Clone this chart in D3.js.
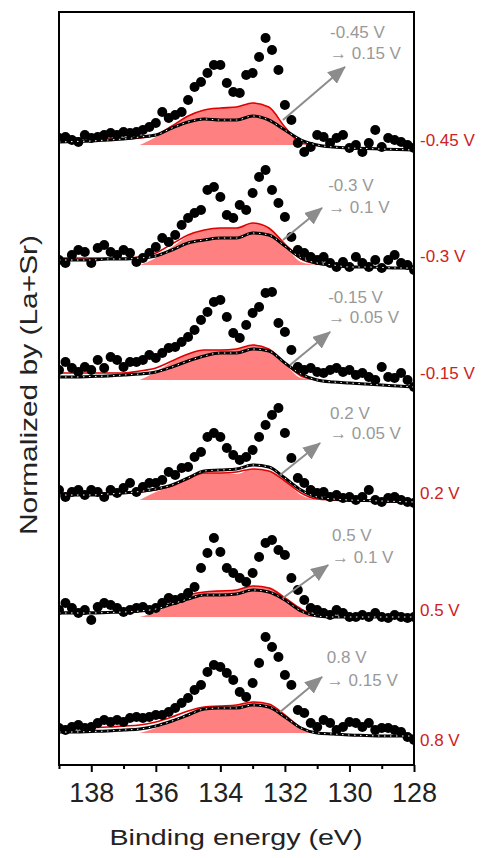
<html>
<head>
    <script src="https://d3js.org/d3.v7.min.js"></script>
    <style>
        body { margin: 0; background: #fff; }
        text { font-family: "Liberation Sans", Arial, sans-serif; }
    </style>
</head>
<body>
<div id="chart"></div>
<script>
    // panel labels, top to bottom
    var panelLabels = ["-0.45 V", "-0.3 V", "-0.15 V", "0.2 V", "0.5 V", "0.8 V"];
    var shiftLabels = ["\u2192 0.15 V", "\u2192 0.1 V", "\u2192 0.05 V", "\u2192 0.05 V", "\u2192 0.1 V", "\u2192 0.15 V"];
    // vertical offset of each stacked spectrum
    var offsets = [62.5, 50.5, 39.0, 27.0, 15.2, 3.4];
    var majorTicks = [138, 136, 134, 132, 130, 128];
    var minorTicks = [139, 137, 135, 133, 131, 129];

    // measured points, 139 -> 128 eV every 0.2 eV
    var dots1 = [0.2,0.3,0,-0.2,0.5,0.2,0.3,0.5,0.7,0.5,0.8,0.7,0.8,1.0,1.3,1.7,2.8,2.2,2.5,2.8,4.0,5.3,5.8,6.7,7.5,7.5,5.7,4.8,4.7,6.5,6.7,8.3,10.2,9.0,7.0,3.5,2.0,-0.3,-1.2,-0.7,0.5,0.3,-0.3,0.2,0.5,-0.8,-0.5,-1.2,-0.3,1.0,-0.7,0.2,0,-0.2,-0.5,-0.8];
    var dots2 = [0,-0.3,0.5,1.0,0.8,-0.3,1.2,1.5,0.8,0.5,1.0,0.7,-0.2,0.2,0.7,1.3,2.2,1.8,2.5,3.5,4.2,4.7,5.0,7.0,7.3,6.3,4.5,4.2,5.5,5.0,6.7,8.3,9.0,7.0,5.7,4.3,2.3,1.0,0.7,0.3,0,0.3,-0.3,-0.7,-0.2,-0.7,0.3,-0.3,-0.7,0,-0.8,0,0.5,-0.3,-0.5,-1.0];
    var dots3 = [0.5,1.3,0.7,0.3,0.8,0.5,1.5,0.7,1.8,1.5,0.8,1.3,1.3,1.5,2.0,1.7,2.2,2.7,2.8,3.3,3.8,4.5,5.5,6.3,7.3,7.5,5.8,4.2,3.7,5.0,6.2,6.8,8.2,8.3,5.2,4.3,2.5,0.8,0.5,0.7,0.3,0.2,0.5,0.7,0.3,0.5,0,0.2,-0.2,-0.5,0.8,-0.2,-0.3,0.2,-0.5,-1.2];
    var dots4 = [0.5,-0.2,0.3,0.5,0,0.5,0.3,-0.2,0.5,0.2,0.7,1.2,0.3,0.8,1.2,1.2,1.5,2.3,2.0,2.7,2.8,3.8,4.3,5.8,6.2,5.8,4.7,4.0,3.5,3.8,4.5,5.8,7.0,8.0,8.7,6.2,3.7,1.7,1.2,0.5,0.2,0.3,-0.2,0,-0.3,-0.2,-0.5,-0.2,0.5,-0.5,-0.7,-0.3,-0.2,-0.5,-0.7,-0.8];
    var dots5 = [0.3,1.0,0.5,0,0.3,-0.7,0.6,1.0,0.8,0.5,0.1,0.3,0.5,0.6,0.3,0.5,1.0,1.5,1.3,1.5,2.0,2.6,4.5,6.0,7.5,6.1,4.5,4.0,3.5,3.1,4.0,5.6,7.0,7.3,6.3,5.8,3.5,2.3,1.3,0.5,0.3,0,-0.2,0.3,0,-0.4,-0.4,-0.2,-0.4,0,-0.4,-0.5,-0.2,-0.4,-0.5,-0.4];
    var dots6 = [0.3,0.1,0.4,0.6,0.3,0.4,0.8,1.1,0.9,1.1,0.9,1.3,1.4,1.3,1.4,1.6,1.6,1.9,2.3,2.8,3.3,4.1,4.6,5.9,6.6,6.4,5.8,5.1,3.9,3.4,4.8,6.8,9.4,8.4,7.4,5.6,4.6,2.1,1.8,0.8,0.4,1.1,0.8,0.1,0.4,0.9,0.8,0.4,0.8,0.1,0.3,0.3,0.1,-0.1,-0.6,-0.9];

    // envelope fit, 139 -> 128 eV every 0.5 eV
    var env1 = [-0.2,-0.15,-0.1,0,0.1,0.3,0.5,1.2,1.8,2.1,2.0,2.0,2.4,2.0,1.0,0,-0.5,-0.7,-0.8,-0.85,-0.9,-0.95,-1.0];
    var env2 = [0,0,0,0.1,0.1,0.2,0.4,1.0,1.7,2.0,2.2,2.2,2.7,2.5,1.4,0.2,-0.3,-0.5,-0.7,-0.7,-0.75,-0.8,-0.8];
    var env3 = [-0.2,-0.2,-0.15,-0.1,0,0.1,0.3,0.8,1.4,1.9,2.2,2.2,2.6,2.4,1.2,0.1,-0.5,-0.7,-0.8,-0.9,-1.0,-1.1,-1.2];
    var env4 = [0,0,0,0.1,0.2,0.35,0.6,1.0,1.7,2.4,2.5,2.6,3.0,2.8,1.7,0.5,-0.2,-0.4,-0.5,-0.55,-0.6,-0.65,-0.7];
    var env5 = [0,0,0,0.05,0.1,0.2,0.4,0.9,1.4,1.8,1.8,1.9,2.3,2.1,1.3,0.2,-0.3,-0.4,-0.4,-0.4,-0.4,-0.4,-0.4];
    var env6 = [-0.1,-0.1,-0.05,0,0.1,0.2,0.5,1.0,1.6,2.2,2.3,2.3,2.6,2.4,1.4,0.3,-0.2,-0.3,-0.4,-0.45,-0.5,-0.5,-0.5];

    // red fit line, same grid
    var red1 = [0.2,0.2,0.15,0.1,0.1,0.2,0.5,1.4,2.4,3.0,3.2,3.3,3.7,3.3,1.3,-0.3,-0.5,-0.7,-0.8,-0.8,-0.85,-0.9,-0.9];
    var red2 = [0.2,0.2,0.2,0.2,0.2,0.3,0.7,1.6,2.5,3.0,3.2,3.2,3.7,3.2,1.6,0.1,-0.4,-0.6,-0.7,-0.7,-0.75,-0.8,-0.8];
    var red3 = [0.2,0.2,0.2,0.2,0.2,0.4,0.7,1.4,2.1,2.5,2.5,2.6,3.0,2.6,1.2,-0.1,-0.5,-0.7,-0.8,-0.9,-1.0,-1.1,-1.2];
    var red4 = [0.2,0.2,0.2,0.2,0.2,0.3,0.5,0.9,1.6,2.2,2.2,2.3,2.6,2.4,1.4,0.2,-0.4,-0.5,-0.6,-0.6,-0.65,-0.7,-0.7];
    var red5 = [0.1,0.1,0.1,0.1,0.15,0.3,0.6,1.2,1.8,2.1,2.2,2.3,2.7,2.5,1.5,0.4,-0.3,-0.4,-0.4,-0.4,-0.4,-0.4,-0.4];
    var red6 = [0.3,0.3,0.35,0.4,0.5,0.6,0.9,1.4,2.0,2.4,2.5,2.6,2.9,2.7,1.6,0.3,-0.2,-0.3,-0.4,-0.45,-0.5,-0.5,-0.5];

    // shaded components, 136.5 -> 131 eV every 0.5 eV
    var pink1 = [-0.5,0.3,1.4,2.4,3.0,3.2,3.3,3.7,3.3,1.3,-0.4,-0.5];
    var pink2 = [-0.5,0.2,1.3,2.4,3.0,3.2,3.2,3.7,3.2,1.5,-0.2,-0.5];
    var pink3 = [-0.5,0.3,1.3,2.1,2.5,2.5,2.6,3.0,2.6,1.1,-0.3,-0.5];
    var pink4 = [-0.5,0.3,0.9,1.7,2.2,2.2,2.1,2.6,2.4,1.4,0.0,-0.5];
    var pink5 = [-0.4,0.1,0.9,1.7,2.1,2.3,2.3,2.7,2.6,1.6,0.2,-0.4];
    var pink6 = [-0.2,0.3,1.0,1.8,2.4,2.5,2.6,2.9,2.7,1.6,0.2,-0.2];
    var pinkBase = [-0.5, -0.5, -0.5, -0.5, -0.4, -0.2];

    // right-hand label heights above offset
    var labelY = [0.0, 0.4, 0.2, 0.2, 0.3, -0.9];

    // annotation anchors (eV, height above offset)
    var noteX = [130.6, 130.66, 130.66, 130.6, 130.54, 130.7];
    var noteY1 = [10.8, 7.5, 7.8, 8.2, 7.8, 7.4];
    var noteY2 = [8.7, 5.3, 5.8, 6.2, 5.6, 5.1];
    var arrowFrom = [[132.06, 2.0], [132.06, 2.0], [131.84, 1.0], [132.15, 2.0], [132.06, 1.5], [132.15, 1.9]];
    var arrowTo = [[130.14, 7.3], [130.85, 5.2], [130.6, 4.3], [130.91, 5.2], [130.66, 4.8], [130.85, 5.4]];

    var dots = [dots1, dots2, dots3, dots4, dots5, dots6];
    var envs = [env1, env2, env3, env4, env5, env6];
    var reds = [red1, red2, red3, red4, red5, red6];
    var pinks = [pink1, pink2, pink3, pink4, pink5, pink6];

    var dotE = d3.range(56).map(function (i) { return 139 - i * 0.2; });
    var fitE = d3.range(23).map(function (i) { return 139 - i * 0.5; });
    var pinkE = d3.range(12).map(function (i) { return 136.5 - i * 0.5; });

    var W = 488, H = 858;
    var plotL = 59, plotR = 414, plotT = 12, plotB = 765;

    var svg = d3.select("#chart").append("svg")
        .attr("width", W)
        .attr("height", H);

    var x = d3.scaleLinear().domain([139, 128]).range([plotL, plotR]);
    var y = d3.scaleLinear().domain([0, 75.3]).range([plotB, plotT]);

    var defs = svg.append("defs");
    defs.append("clipPath").attr("id", "plot")
        .append("rect")
        .attr("x", plotL).attr("y", plotT)
        .attr("width", plotR - plotL).attr("height", plotB - plotT);

    var marker = defs.append("marker")
        .attr("id", "head")
        .attr("markerUnits", "userSpaceOnUse")
        .attr("markerWidth", 18).attr("markerHeight", 15)
        .attr("refX", 17).attr("refY", 7.5)
        .attr("orient", "auto");
    marker.append("path").attr("d", "M0,0 L18,7.5 L0,15 Z").attr("fill", "#8c8c8c");

    var plot = svg.append("g").attr("clip-path", "url(#plot)");

    panelLabels.forEach(function (lab, p) {
        var off = offsets[p];
        var g = plot.append("g");

        var area = d3.area()
            .x(function (d, i) { return x(pinkE[i]); })
            .y0(y(off + pinkBase[p]))
            .y1(function (d) { return y(off + d); })
            .curve(d3.curveMonotoneX);
        g.append("path").datum(pinks[p])
            .attr("d", area)
            .attr("fill", "#ff8080");

        var fitLine = d3.line()
            .x(function (d, i) { return x(fitE[i]); })
            .y(function (d) { return y(off + d); })
            .curve(d3.curveMonotoneX);

        g.append("path").datum(reds[p])
            .attr("d", fitLine)
            .attr("fill", "none")
            .attr("stroke", "#e00000")
            .attr("stroke-width", 1.6);

        g.selectAll("circle").data(dots[p]).enter()
            .append("circle")
            .attr("cx", function (d, i) { return x(dotE[i]); })
            .attr("cy", function (d) { return y(off + d); })
            .attr("r", 5)
            .attr("fill", "#000");

        g.append("path").datum(envs[p])
            .attr("d", fitLine)
            .attr("fill", "none")
            .attr("stroke", "#000")
            .attr("stroke-width", 3);
        g.append("path").datum(envs[p])
            .attr("d", fitLine)
            .attr("fill", "none")
            .attr("stroke", "#fff")
            .attr("stroke-width", 1)
            .attr("stroke-dasharray", "1.5,4.5");
    });

    // annotations
    panelLabels.forEach(function (lab, p) {
        var off = offsets[p];
        svg.append("line")
            .attr("x1", x(arrowFrom[p][0])).attr("y1", y(off + arrowFrom[p][1]))
            .attr("x2", x(arrowTo[p][0])).attr("y2", y(off + arrowTo[p][1]))
            .attr("stroke", "#8c8c8c")
            .attr("stroke-width", 2)
            .attr("marker-end", "url(#head)");
        svg.append("text")
            .attr("x", x(noteX[p])).attr("y", y(off + noteY1[p]))
            .attr("dy", "0.35em")
            .attr("font-size", 17)
            .attr("fill", "#999")
            .text(lab);
        svg.append("text")
            .attr("x", x(noteX[p])).attr("y", y(off + noteY2[p]))
            .attr("dy", "0.35em")
            .attr("font-size", 17)
            .attr("fill", "#999")
            .text(shiftLabels[p]);
        svg.append("text")
            .attr("x", 420).attr("y", y(off + labelY[p]))
            .attr("dy", "0.35em")
            .attr("font-size", 17)
            .attr("fill", "#cc2222")
            .text(lab);
    });

    // frame
    svg.append("rect")
        .attr("x", plotL).attr("y", plotT)
        .attr("width", plotR - plotL).attr("height", plotB - plotT)
        .attr("fill", "none")
        .attr("stroke", "#000")
        .attr("stroke-width", 2);

    var ax = svg.append("g")
        .attr("transform", "translate(0," + plotB + ")")
        .call(d3.axisBottom(x).tickValues(majorTicks).tickSize(7).tickSizeOuter(0).tickFormat(d3.format("d")));
    ax.select(".domain").remove();
    ax.selectAll("line").attr("stroke-width", 2);
    ax.selectAll("text")
        .attr("font-family", "Liberation Sans, Arial, sans-serif")
        .attr("font-size", 27)
        .attr("fill", "#222")
        .attr("dy", "1.0em");

    var axm = svg.append("g")
        .attr("transform", "translate(0," + plotB + ")")
        .call(d3.axisBottom(x).tickValues(minorTicks).tickSize(4).tickFormat(""));
    axm.select(".domain").remove();
    axm.selectAll("line").attr("stroke-width", 2);

    svg.append("text")
        .attr("x", 236).attr("y", 845)
        .attr("text-anchor", "middle")
        .attr("font-size", 22)
        .attr("fill", "#222")
        .attr("textLength", 253)
        .attr("lengthAdjust", "spacingAndGlyphs")
        .text("Binding energy (eV)");

    svg.append("text")
        .attr("transform", "translate(37,385) rotate(-90)")
        .attr("text-anchor", "middle")
        .attr("font-size", 24)
        .attr("fill", "#222")
        .attr("textLength", 300)
        .attr("lengthAdjust", "spacingAndGlyphs")
        .text("Normalized by (La+Sr)");
</script>
</body>
</html>
